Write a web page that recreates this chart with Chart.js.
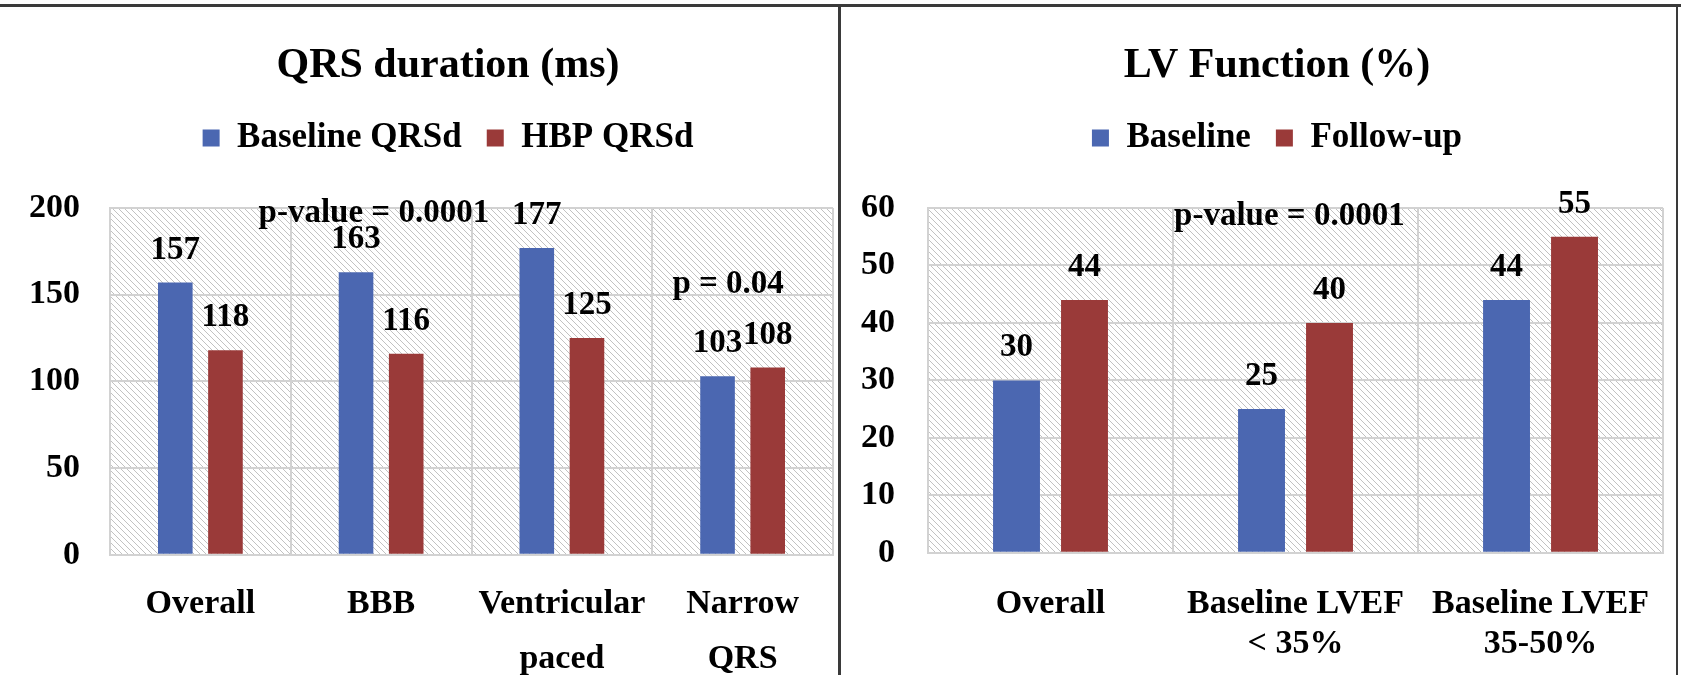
<!DOCTYPE html>
<html>
<head>
<meta charset="utf-8">
<title>QRS duration and LV function</title>
<script src="https://cdn.jsdelivr.net/npm/chart.js@4.4.1/dist/chart.umd.min.js"></script>
<style>
  html, body { margin: 0; padding: 0; background: #fff; overflow: hidden; }
  #page { position: relative; width: 1681px; height: 675px; overflow: hidden; }
  .panel { position: absolute; top: 0; }
  #qrsBox { left: 0; width: 839px; height: 708px; }
  #lvBox { left: 839px; width: 842px; height: 695px; }
  .rule { position: absolute; background: #3a3a3a; }
</style>
</head>
<body>
<div id="page">
  <div class="panel" id="qrsBox"><canvas id="qrsChart"></canvas></div>
  <div class="panel" id="lvBox"><canvas id="lvChart"></canvas></div>
  <div class="rule" style="left:0;top:4px;width:1681px;height:3px"></div>
  <div class="rule" style="left:838px;top:4px;width:3px;height:671px"></div>
  <div class="rule" style="left:1676px;top:4px;width:2px;height:671px"></div>
</div>
<script>
// QRS duration panel
const qrsCategories = ['Overall', 'BBB', ['Ventricular', 'paced'], ['Narrow', 'QRS']];
const qrsBaseline = [157, 163, 177, 103];
const qrsHbp = [118, 116, 125, 108];
const qrsTicks = [0, 50, 100, 150, 200];

// LV function panel
const lvCategories = ['Overall', ['Baseline LVEF', '< 35%'], ['Baseline LVEF', '35-50%']];
const lvBaseline = [30, 25, 44];
const lvFollowUp = [44, 40, 55];
const lvTicks = [0, 10, 20, 30, 40, 50, 60];

// p-value notes (category position, value position)
const qrsNotes = [
    { text: 'p-value = 0.0001', cat: 0.96, value: 192 },
    { text: 'p = 0.04', cat: 2.92, value: 150.7 }
];
const lvNotes = [
    { text: 'p-value = 0.0001', cat: 0.975, value: 57 }
];

const BLUE = '#4b67b1';
const RED = '#9a3a39';
const GRID = '#d2d2d2';
const SERIF = '"Liberation Serif", "Times New Roman", serif';
const TICK_FONT = 34;

Chart.defaults.font.family = SERIF;
Chart.defaults.font.weight = 'bold';
Chart.defaults.color = '#000';

// diagonal hatch tile for the plot background
const hatchTile = document.createElement('canvas');
hatchTile.width = 6;
hatchTile.height = 6;
(function () {
    const c = hatchTile.getContext('2d');
    c.strokeStyle = '#c2c2c2';
    c.lineWidth = 1;
    c.beginPath();
    c.moveTo(-1, -1); c.lineTo(7, 7);
    c.moveTo(-1, 5); c.lineTo(1, 7);
    c.moveTo(5, -1); c.lineTo(7, 1);
    c.stroke();
})();

// width of the widest y tick label, so the labels can be right-aligned
function widestTick(ticks) {
    const c = document.createElement('canvas').getContext('2d');
    c.font = 'bold ' + TICK_FONT + 'px ' + SERIF;
    return Math.max(...ticks.map(t => c.measureText(String(t)).width));
}

const hatchBackground = {
    id: 'hatchBackground',
    beforeDraw(chart) {
        const { ctx, chartArea: a } = chart;
        ctx.save();
        ctx.fillStyle = ctx.createPattern(hatchTile, 'repeat');
        ctx.fillRect(a.left, a.top, a.right - a.left, a.bottom - a.top);
        ctx.restore();
    }
};

// numbers above the bars
const valueLabels = {
    id: 'valueLabels',
    afterDatasetsDraw(chart) {
        const { ctx } = chart;
        ctx.save();
        ctx.font = 'bold 33px ' + SERIF;
        ctx.fillStyle = '#000';
        ctx.textAlign = 'center';
        ctx.textBaseline = 'alphabetic';
        chart.data.datasets.forEach((ds, i) => {
            chart.getDatasetMeta(i).data.forEach((bar, j) => {
                ctx.fillText(String(ds.data[j]), bar.x, bar.y - 24);
            });
        });
        ctx.restore();
    }
};

// p-value text placed on the chart's scales
const pNotes = {
    id: 'pNotes',
    afterDatasetsDraw(chart, args, opts) {
        const { ctx, scales: { x, y } } = chart;
        ctx.save();
        ctx.font = 'bold 33px ' + SERIF;
        ctx.fillStyle = '#000';
        ctx.textAlign = 'center';
        ctx.textBaseline = 'alphabetic';
        (opts.notes || []).forEach(n => {
            ctx.fillText(n.text, x.getPixelForValue(n.cat), y.getPixelForValue(n.value));
        });
        ctx.restore();
    }
};

function makeChart(id, cfg) {
    return new Chart(document.getElementById(id), {
        type: 'bar',
        data: {
            labels: cfg.labels,
            datasets: [
                { label: cfg.names[0], data: cfg.first, backgroundColor: BLUE },
                { label: cfg.names[1], data: cfg.second, backgroundColor: RED }
            ]
        },
        options: {
            responsive: true,
            maintainAspectRatio: false,
            animation: false,
            datasets: { bar: { categoryPercentage: 0.555, barPercentage: 0.69 } },
            layout: { padding: cfg.padding },
            plugins: {
                title: {
                    display: true,
                    text: cfg.title,
                    color: '#000',
                    font: { size: 42, weight: 'bold', lineHeight: 1 },
                    padding: { top: 45, bottom: 8.5 }
                },
                // blank spacer between legend and plot
                subtitle: {
                    display: true,
                    text: '',
                    weight: 500,
                    font: { size: 10, lineHeight: 1 },
                    padding: { top: 32.5, bottom: 0 }
                },
                legend: {
                    labels: {
                        boxWidth: 17,
                        boxHeight: 17,
                        padding: 25,
                        color: '#000',
                        font: { size: 35, weight: 'bold' }
                    }
                },
                tooltip: { enabled: false },
                pNotes: { notes: cfg.notes }
            },
            scales: {
                x: {
                    grid: { color: GRID, lineWidth: 2, drawTicks: false },
                    border: { color: GRID, width: 2 },
                    ticks: {
                        color: '#000',
                        font: { size: TICK_FONT, weight: 'bold', lineHeight: cfg.xLine },
                        padding: cfg.xPad,
                        maxRotation: 0,
                        minRotation: 0,
                        autoSkip: false
                    }
                },
                y: {
                    min: cfg.ticks[0],
                    max: cfg.ticks[cfg.ticks.length - 1],
                    grid: { color: GRID, lineWidth: 2, drawTicks: false },
                    border: { color: GRID, width: 2 },
                    ticks: {
                        stepSize: cfg.ticks[1] - cfg.ticks[0],
                        color: '#000',
                        font: { size: TICK_FONT, weight: 'bold' },
                        mirror: true,
                        crossAlign: 'far',
                        padding: -(cfg.yPad + widestTick(cfg.ticks))
                    },
                    afterFit(scale) { scale.width = cfg.axisWidth; }
                }
            }
        },
        plugins: [hatchBackground, valueLabels, pNotes]
    });
}

makeChart('qrsChart', {
    title: 'QRS duration (ms)',
    names: ['Baseline QRSd', 'HBP QRSd'],
    labels: qrsCategories,
    first: qrsBaseline,
    second: qrsHbp,
    ticks: qrsTicks,
    notes: qrsNotes,
    padding: { left: 63, right: 6, top: 0, bottom: 0 },
    axisWidth: 47,
    yPad: 30,
    xPad: 21.5,
    xLine: 1.62
});

makeChart('lvChart', {
    title: 'LV Function (%)',
    names: ['Baseline', 'Follow-up'],
    labels: lvCategories,
    first: lvBaseline,
    second: lvFollowUp,
    ticks: lvTicks,
    notes: lvNotes,
    padding: { left: 40, right: 6, top: 0, bottom: 0 },
    axisWidth: 49,
    yPad: 33,
    xPad: 31,
    xLine: 1.18
});
</script>
</body>
</html>
